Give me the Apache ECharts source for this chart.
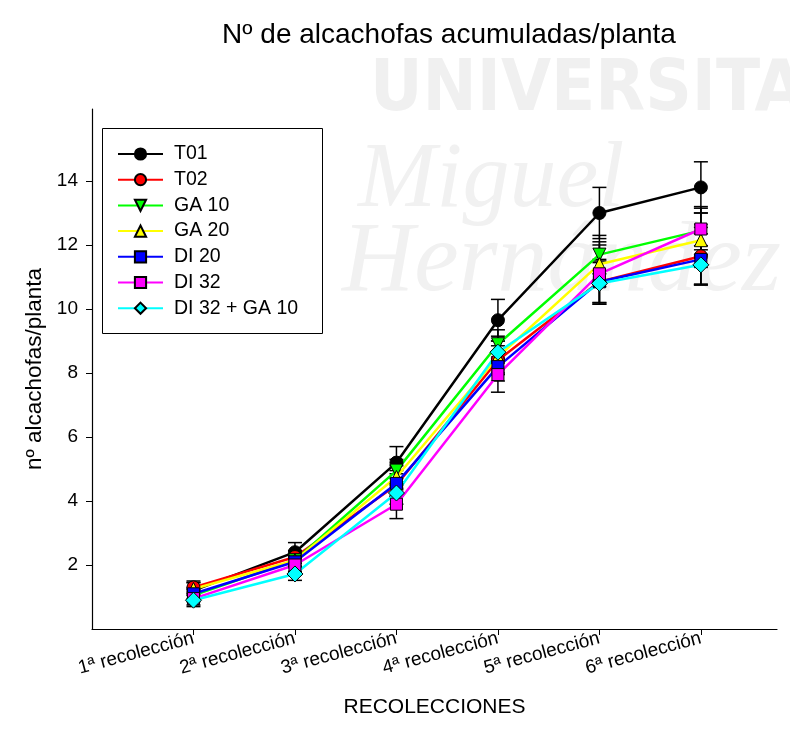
<!DOCTYPE html>
<html>
<head>
<meta charset="utf-8">
<script src="https://cdn.jsdelivr.net/npm/echarts@6/dist/echarts.min.js"></script>
<style>html,body{margin:0;padding:0;background:#fff}#c{width:790px;height:742px}</style>
</head>
<body>
<div id="c"></div>
<script>
var categories = ['1ª recolección', '2ª recolección', '3ª recolección', '4ª recolección', '5ª recolección', '6ª recolección'];
var yTicks = [2, 4, 6, 8, 10, 12, 14];
var seriesNames = ['T01', 'T02', 'GA 10', 'GA 20', 'DI 20', 'DI 32', 'DI 32 + GA 10'];
var T01 = [1.2, 2.4, 5.2, 9.65, 13.0, 13.8];
var T02 = [1.3, 2.25, 4.5, 8.4, 10.85, 11.65];
var GA10 = [1.05, 2.15, 4.95, 8.9, 11.7, 12.45];
var GA20 = [1.25, 2.15, 4.75, 8.5, 11.4, 12.15];
var DI20 = [1.1, 2.1, 4.55, 8.2, 10.85, 11.55];
var DI32 = [0.95, 2.0, 3.9, 7.95, 11.1, 12.5];
var DI32GA10 = [0.9, 1.72, 4.25, 8.65, 10.8, 11.38];
var errT01 = [0.25, 0.3, 0.5, 0.65, 0.8, 0.8];
var errT02 = [0.2, 0.2, 0.35, 0.45, 0.65, 0.9];
var errGA10 = [0.2, 0.2, 0.35, 0.45, 0.6, 0.75];
var errGA20 = [0.2, 0.2, 0.35, 0.5, 0.7, 0.85];
var errDI20 = [0.2, 0.15, 0.4, 0.45, 0.7, 0.8];
var errDI32 = [0.2, 0.2, 0.45, 0.55, 0.9, 0.65];
var errDI32GA10 = [0.2, 0.2, 0.35, 0.5, 0.65, 0.6];

var values = [T01, T02, GA10, GA20, DI20, DI32, DI32GA10];
var errors = [errT01, errT02, errGA10, errGA20, errDI20, errDI32, errDI32GA10];
var colors = ['#000000', '#ff0000', '#00ff00', '#ffff00', '#0000ff', '#ff00ff', '#00ffff'];
var symbols = ['circle', 'circle', 'triangle', 'triangle', 'rect', 'rect', 'diamond'];
var rotates = [0, 0, 180, 0, 0, 0, 0];
var sizes = [13, 13, 13, 13, 12, 12, 16];

var FONT = 'Liberation Sans, Arial, sans-serif';
var series = [];
values.forEach(function (vals, s) {
  series.push({
    name: seriesNames[s], type: 'line', z: 3,
    data: vals.map(function (v, i) { return [i + 1, v]; }),
    symbol: symbols[s], symbolSize: sizes[s], symbolRotate: rotates[s],
    showAllSymbol: true,
    lineStyle: { color: colors[s], width: 2.5 },
    itemStyle: { color: colors[s], borderColor: '#000', borderWidth: 1, opacity: 1 },
    emphasis: { disabled: true }, animation: false
  });
});
var errData = [];
values.forEach(function (vals, s) {
  vals.forEach(function (v, i) { errData.push([i + 1, v - errors[s][i], v + errors[s][i]]); });
});
series.push({
  type: 'custom', z: 2, animation: false, silent: true,
  data: errData,
  renderItem: function (params, api) {
    var x = api.value(0);
    var lo = api.coord([x, api.value(1)]);
    var hi = api.coord([x, api.value(2)]);
    var w = 7;
    var st = { stroke: '#000', lineWidth: 1.5 };
    return { type: 'group', children: [
      { type: 'line', shape: { x1: lo[0], y1: lo[1], x2: hi[0], y2: hi[1] }, style: st },
      { type: 'line', shape: { x1: lo[0] - w, y1: lo[1], x2: lo[0] + w, y2: lo[1] }, style: st },
      { type: 'line', shape: { x1: hi[0] - w, y1: hi[1], x2: hi[0] + w, y2: hi[1] }, style: st }
    ]};
  }
});

var chart = echarts.init(document.getElementById('c'), null, { renderer: 'canvas' });
chart.setOption({
  backgroundColor: '#ffffff',
  animation: false,
  textStyle: { fontFamily: FONT },
  title: {
    text: 'Nº de alcachofas acumuladas/planta', left: 444, top: 16, textAlign: 'center',
    textStyle: { fontFamily: FONT, fontSize: 28, fontWeight: 'normal', color: '#000' }
  },
  graphic: [
    { type: 'text', z: -10, left: 370, top: 55, style: { text: 'UNIVERSITAS', fill: '#f0f0f0', font: 'bold 72px "DejaVu Sans Condensed", "Liberation Sans Narrow", sans-serif' } },
    { type: 'text', z: -10, left: 358, top: 134, style: { text: 'Miguel', fill: '#f1f1f1', font: 'italic 94px "Liberation Serif", serif' } },
    { type: 'text', z: -10, left: 342, top: 214, style: { text: 'Hernández', fill: '#f1f1f1', font: 'italic 100px "Liberation Serif", serif' } },
    { type: 'rect', z: 5, shape: { x: 102.5, y: 128.5, width: 220, height: 205 }, style: { fill: '#ffffff', stroke: '#000', lineWidth: 1 } }
  ],
  legend: {
    orient: 'vertical', left: 117, top: 144, z: 6, padding: 0,
    itemWidth: 45, itemHeight: 14, itemGap: 5.7,
    data: seriesNames,
    textStyle: { fontFamily: FONT, fontSize: 19.5, color: '#000', padding: [0, 0, 0, 6] },
    selectedMode: false
  },
  grid: { left: 92, right: 13, top: 109, bottom: 113, containLabel: false },
  xAxis: {
    type: 'value', min: 0, max: 6.75,
    name: 'RECOLECCIONES', nameLocation: 'middle', nameGap: 68,
    nameTextStyle: { fontFamily: FONT, fontSize: 21, color: '#000' },
    axisLine: { lineStyle: { color: '#000', width: 1.2 } },
    axisTick: { show: true, length: 6, inside: false, customValues: [1, 2, 3, 4, 5, 6], lineStyle: { color: '#000' } },
    axisLabel: {
      customValues: [1, 2, 3, 4, 5, 6], rotate: 15, margin: 9,
      fontFamily: FONT, fontSize: 19, color: '#000',
      formatter: function (v) { return categories[Math.round(v) - 1] || ''; }
    },
    splitLine: { show: false }
  },
  yAxis: {
    type: 'value', min: 0, max: 16.25,
    name: 'nº alcachofas/planta', nameLocation: 'middle', nameGap: 46,
    nameTextStyle: { fontFamily: FONT, fontSize: 22.5, color: '#000' },
    axisLine: { show: true, lineStyle: { color: '#000', width: 1.2 } },
    axisTick: { show: true, length: 6, customValues: yTicks, lineStyle: { color: '#000' } },
    axisLabel: { customValues: yTicks, margin: 14, fontFamily: FONT, fontSize: 19, color: '#000' },
    splitLine: { show: false }
  },
  series: series
});
</script>
</body>
</html>
